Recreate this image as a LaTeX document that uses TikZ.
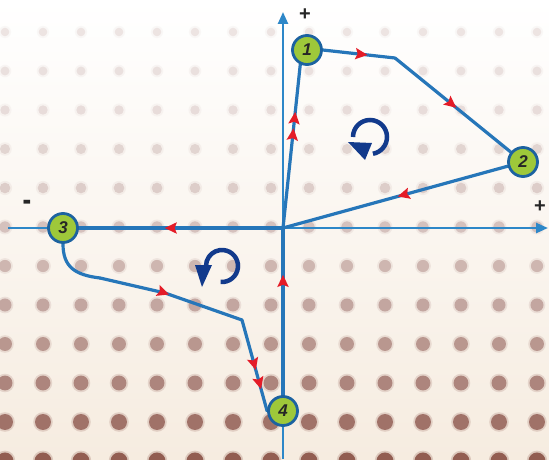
\documentclass[tikz,border=0pt]{standalone}
\usepackage{fontspec}
\newfontfamily\lsans{Liberation Sans}
\usetikzlibrary{arrows.meta,decorations.markings}
\definecolor{pathblue}{RGB}{38,118,185}
\definecolor{axisblue}{RGB}{45,135,200}
\definecolor{ringblue}{RGB}{28,98,160}
\definecolor{nodegreen}{RGB}{158,200,58}
\definecolor{arrred}{RGB}{228,28,40}
\definecolor{iconblue}{RGB}{18,58,140}
\definecolor{dotbrown}{RGB}{125,62,48}
\definecolor{bgbot}{RGB}{246,236,224}
\pgfdeclarelayer{bg}
\pgfsetlayers{bg,main}
\begin{document}
\begin{tikzpicture}[x=1pt,y=1pt,
  pt/.style={circle,fill=nodegreen,draw=ringblue,line width=2.8pt,minimum size=29pt,inner sep=0pt,
    font=\lsans\bfseries\itshape\fontsize{17}{17}\selectfont,text=black!85},
  lab/.style={inner sep=0pt,font=\lsans\bfseries\fontsize{20}{20}\selectfont,text=black!85},
  conn/.style={draw=pathblue,line width=3.2pt,line cap=round,line join=round},
  axisline/.style={draw=axisblue,line width=2.4pt,-{Triangle[length=12pt,width=10pt]}},
  mk/.style={postaction={decorate,decoration={markings,mark=at position #1 with {\arrow{Stealth[length=12pt,width=11pt,inset=2pt,color=arrred]}}}}},
  rot/.style={draw=iconblue,line width=4.5pt}]
\useasboundingbox (0,0) rectangle (549,459);
% nodes
\node[pt] (n1) at (307,409) {1};
\node[pt] (n2) at (523,297) {2};
\node[pt] (n3) at (63,231) {3};
\node[pt] (n4) at (283,48) {4};
\node[lab] (ptop) at (305,444) {+};
\node[lab] (pright) at (540,252) {+};
\node[lab] (mleft) at (27,254) {\scalebox{1.3}[1.6]{-}};
\coordinate (O) at (283,231);
\coordinate (ytop) at (283,447);
\coordinate (ybot) at (283,0);
\coordinate (xl) at (8,231);
\coordinate (xr) at (548,231);
\coordinate (c1) at (395,401);
\coordinate (q1) at (100,181);
\coordinate (q2) at (165,166);
\coordinate (c2) at (242,139);
\begin{pgfonlayer}{bg}
% background
\shade[top color=white,bottom color=bgbot] (0,0) rectangle (549,459);
\foreach \i in {0,...,14} {
  \foreach \j in {0,...,11} {
    \pgfmathsetmacro\xx{5+38*\i}
    \pgfmathsetmacro\yy{32+39*\j}
    \pgfmathtruncatemacro\p{14+70*(\yy/459)^1.9}
    \pgfmathsetmacro\r{4.2+4.3*(\yy/459)^1.5}
    \fill[dotbrown!\p!white,opacity=0.25] (\xx,459-\yy) circle (\r+1.8);
    \fill[dotbrown!\p!white] (\xx,459-\yy) circle (\r);
  }
}
% axes
\draw[axisline] (ybot) -- (ytop);
\draw[axisline] (xl) -- (xr);
% connectors
\draw[conn,mk=0.61,mk=0.71] (O) -- (n1.245);
\draw[conn,mk=0.62] (n1.east) -- (c1);
\draw[conn,mk=0.53] (c1) -- (n2);
\draw[conn,mk=0.49] (n2) -- (O);
\draw[conn,mk=0.58] (O) -- (n3);
\draw[conn] (n3.south) .. controls (63,192) and (75,184) .. (q1);
\draw[conn,mk=0.48] (q1) -- (q2) -- (c2);
\draw[conn,mk=0.55,mk=0.76] (c2) -- (n4.west);
\draw[conn,mk=0.72] (n4) -- (O);
% rotation icons
\draw[rot] (370,322) ++(180:17) arc[start angle=180,end angle=-80,radius=17];
\fill[iconblue] (348,317) -- (372,316) -- (365,299) -- cycle;
\draw[rot] (222,193) ++(-95:16) arc[start angle=-95,end angle=180,radius=16];
\fill[iconblue] (195,194) -- (212,194) -- (202,172) -- cycle;
\end{pgfonlayer}
\end{tikzpicture}
\end{document}
